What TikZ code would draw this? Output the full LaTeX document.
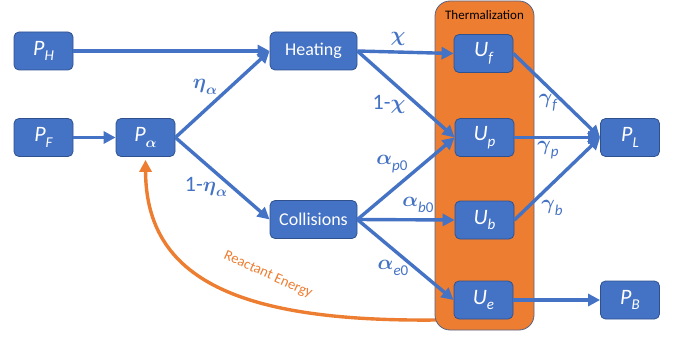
\documentclass[tikz,border=0pt]{standalone}
\usepackage{fontspec}
\setmainfont{Carlito}
\usetikzlibrary{arrows.meta,calc}
\definecolor{cblue}{RGB}{68,114,196}
\definecolor{cborder}{RGB}{47,82,143}
\definecolor{corange}{RGB}{237,125,49}
\definecolor{cthermb}{RGB}{90,100,130}
\newcommand\lsub[1]{\raisebox{-0.55ex}{\fontsize{15}{15}\selectfont\itshape #1}}
\newcommand\gk[1]{{\boldmath$#1$}}
\begin{document}
\begin{tikzpicture}[x=1pt,y=-1pt,
  boxn/.style={draw=cborder, line width=0.8pt, fill=cblue, rounded corners=5pt,
    minimum width=59pt, minimum height=38pt, inner sep=0pt, text=white,
    font=\fontsize{22}{22}\selectfont\itshape},
  txtn/.style={boxn, minimum width=87pt, font=\fontsize{18}{18}\selectfont},
  arr/.style={draw=cblue, line width=3.4pt, -{Triangle[length=12pt,width=12pt]}},
  lab/.style={text=cblue, font=\fontsize{22}{22}\selectfont, inner sep=0pt},
  oarr/.style={draw=corange, line width=3.4pt, -{Triangle[length=12pt,width=12pt]}}
  ]
\useasboundingbox (0,0) rectangle (686,337);
% orange feedback curve (drawn first, under the box)
\coordinate (rs) at (437,320);
\node[boxn] (Pa) at (145.5,137.5) {P\lsub{\gk{\alpha}}};
\coordinate (rt) at ($(Pa.south)+(0,3)$);
\draw[oarr] (rs) .. controls (240,322) and (146,280) .. (rt);
\node[text=corange, font=\fontsize{14.5}{14.5}\selectfont, rotate=-24, inner sep=0pt] (re) at (268,275) {Reactant Energy};
% thermalization box
\node[draw=cthermb, line width=0.8pt, fill=corange, rounded corners=15pt,
  minimum width=99pt, minimum height=329pt, inner sep=0pt] (therm) at (484.5,165.5) {};
\node[font=\fontsize{13}{13}\selectfont, text=black, inner sep=0pt] (thl) at (484.5,15) {Thermalization};
% nodes
\node[boxn] (PH) at (43.5,51) {P\lsub{H}};
\node[boxn] (PF) at (43.5,137.5) {P\lsub{F}};
\node[txtn] (He) at (313.5,51) {Heating};
\node[txtn] (Co) at (313.5,219.5) {Collisions};
\node[boxn] (Uf) at (483.5,53.5) {U\lsub{f}};
\node[boxn] (Up) at (484.5,137.5) {U\lsub{p}};
\node[boxn] (Ub) at (484.5,220) {U\lsub{b}};
\node[boxn] (Ue) at (483.5,300) {U\lsub{e}};
\node[boxn] (PL) at (630,137.5) {P\lsub{L}};
\node[boxn] (PB) at (630,300) {P\lsub{B}};
% connectors
\draw[arr] (PH.east) -- (He.west);
\draw[arr] (PF.east) -- (Pa.west);
\draw[arr] (Pa.east) -- (He.west);
\draw[arr] (Pa.east) -- (Co.west);
\draw[arr] (He.east) -- (Uf.west);
\draw[arr] (He.east) -- (Up.west);
\draw[arr] (Co.east) -- (Up.west);
\draw[arr] (Co.east) -- (Ub.west);
\draw[arr] (Co.east) -- (Ue.west);
\draw[arr] (Uf.east) -- (PL.west);
\draw[arr] (Up.east) -- (PL.west);
\draw[arr] (Ub.east) -- (PL.west);
\draw[arr] (Ue.east) -- (PB.west);
% labels
\node[lab] (l1) at (205,87) {\gk{\eta}\lsub{\gk{\alpha}}};
\node[lab] (l2) at (206,187) {1-\gk{\eta}\lsub{\gk{\alpha}}};
\node[lab] (l3) at (398,39) {\gk{\chi}};
\node[lab] (l4) at (389,104) {1-\gk{\chi}};
\node[lab] (l5) at (392,164) {\gk{\alpha}\lsub{p\upshape 0}};
\node[lab] (l6) at (418,205) {\gk{\alpha}\lsub{b\upshape 0}};
\node[lab] (l7) at (393,268) {\gk{\alpha}\lsub{e\upshape 0}};
\node[lab] (l8) at (548,103) {\gk{\gamma}\lsub{f}};
\node[lab] (l9) at (548,150) {\gk{\gamma}\lsub{p}};
\node[lab] (l10) at (552,208) {\gk{\gamma}\lsub{b}};
\end{tikzpicture}
\end{document}
